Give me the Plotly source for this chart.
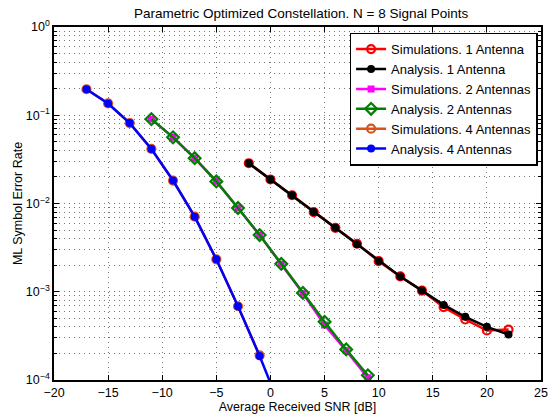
import plotly.graph_objects as go

# ---- data ----
snr_1ant = [-2, 0, 2, 4, 6, 8, 10, 12, 14, 16, 18, 20, 22]
sim_1ant = [0.0286, 0.0187, 0.0124, 0.0080, 0.0053, 0.00350, 0.00222, 0.00149, 0.00103, 6.7e-4, 4.85e-4, 3.65e-4, 3.73e-4]
ana_1ant = [0.0286, 0.0187, 0.0124, 0.0080, 0.0053, 0.00345, 0.00223, 0.00149, 0.00103, 7.1e-4, 5.2e-4, 4.0e-4, 3.28e-4]

snr_2ant = [-11, -9, -7, -5, -3, -1, 1, 3, 5, 7, 9]
sim_2ant = [0.0904, 0.0562, 0.0326, 0.0178, 0.0089, 0.00439, 0.00205, 9.6e-4, 4.2e-4, 2.15e-4, 1.06e-4]
ana_2ant = [0.0904, 0.0562, 0.0326, 0.0178, 0.0089, 0.00439, 0.00207, 9.7e-4, 4.56e-4, 2.22e-4, 1.13e-4]

snr_4ant_sim = [-17, -15, -13, -11, -9, -7, -5, -3, -1]
sim_4ant = [0.197, 0.136, 0.0815, 0.0415, 0.0182, 0.0071, 0.00233, 6.85e-4, 1.9e-4]
snr_4ant_ana = [-17, -15, -13, -11, -9, -7, -5, -3, -1, 1]
ana_4ant = [0.197, 0.136, 0.0815, 0.0415, 0.0182, 0.0071, 0.00233, 6.85e-4, 1.87e-4, 4.6e-5]

x_ticks = [-20, -15, -10, -5, 0, 5, 10, 15, 20, 25]
y_ticks = [1e-4, 1e-3, 1e-2, 1e-1, 1]
y_ticktext = ["10<sup>−4</sup>", "10<sup>−3</sup>", "10<sup>−2</sup>", "10<sup>−1</sup>", "10<sup>0</sup>"]

LW = 2.5
MS = 8

fig = go.Figure()
fig.add_trace(go.Scatter(x=snr_1ant, y=sim_1ant, mode="lines+markers", name="Simulations. 1 Antenna",
                         line=dict(color="#FF0000", width=LW),
                         marker=dict(symbol="circle-open", size=MS, color="#FF0000", line=dict(width=2.2))))
fig.add_trace(go.Scatter(x=snr_1ant, y=ana_1ant, mode="lines+markers", name="Analysis. 1 Antenna",
                         line=dict(color="#000000", width=LW),
                         marker=dict(symbol="circle", size=MS, color="#000000")))
fig.add_trace(go.Scatter(x=snr_2ant, y=sim_2ant, mode="lines+markers", name="Simulations. 2 Antennas",
                         line=dict(color="#FF00FF", width=LW),
                         marker=dict(symbol="square", size=MS - 1, color="#FF00FF")))
fig.add_trace(go.Scatter(x=snr_2ant, y=ana_2ant, mode="lines+markers", name="Analysis. 2 Antennas",
                         line=dict(color="#008000", width=LW),
                         marker=dict(symbol="diamond-open", size=MS + 1, color="#008000", line=dict(width=2.2))))
fig.add_trace(go.Scatter(x=snr_4ant_sim, y=sim_4ant, mode="lines+markers", name="Simulations. 4 Antennas",
                         line=dict(color="#D95319", width=LW),
                         marker=dict(symbol="circle-open", size=MS, color="#D95319", line=dict(width=2.2))))
fig.add_trace(go.Scatter(x=snr_4ant_ana, y=ana_4ant, mode="lines+markers", name="Analysis. 4 Antennas",
                         line=dict(color="#0000FF", width=LW),
                         marker=dict(symbol="circle", size=MS, color="#0000FF")))

font_family = "Liberation Sans, Arial, sans-serif"
grid = dict(showgrid=True, gridcolor="#777777", griddash="1px,4px", gridwidth=1)

fig.update_layout(
    width=556, height=417,
    margin=dict(l=54, r=8, t=27, b=35),
    paper_bgcolor="white", plot_bgcolor="white",
    font=dict(family=font_family, size=12.5, color="black"),
    title=dict(text="Parametric Optimized Constellation. N = 8 Signal Points",
               x=0.5415, xanchor="center", y=0.968, yanchor="middle",
               font=dict(size=13.5, family=font_family, color="black")),
    showlegend=True,
    legend=dict(x=0.993, xanchor="right", y=0.984, yanchor="top",
                bgcolor="white", bordercolor="black", borderwidth=1.5,
                font=dict(size=13, family=font_family, color="black"),
                tracegroupgap=0, itemwidth=30),
)

fig.update_xaxes(
    range=[-20, 25], tickmode="array", tickvals=x_ticks,
    ticks="inside", ticklen=5, tickcolor="black", mirror="allticks",
    showline=True, linecolor="black", linewidth=1.5, zeroline=False,
    tickfont=dict(size=12.5), title=dict(text="Average Received SNR [dB]", font=dict(size=12.5), standoff=0),
    **grid,
)

fig.update_yaxes(
    type="log", range=[-4, 0], tickmode="array", tickvals=y_ticks, ticktext=y_ticktext,
    ticks="inside", ticklen=5, tickcolor="black", mirror="allticks",
    showline=True, linecolor="black", linewidth=1.5, zeroline=False,
    tickfont=dict(size=12.5), title=dict(text="ML Symbol Error Rate", font=dict(size=12.5), standoff=0),
    minor=dict(dtick="D1", ticks="inside", ticklen=3, tickcolor="black",
               showgrid=True, gridcolor="#777777", griddash="1px,4px", gridwidth=1),
    **grid,
)

fig.write_html("out.html")
